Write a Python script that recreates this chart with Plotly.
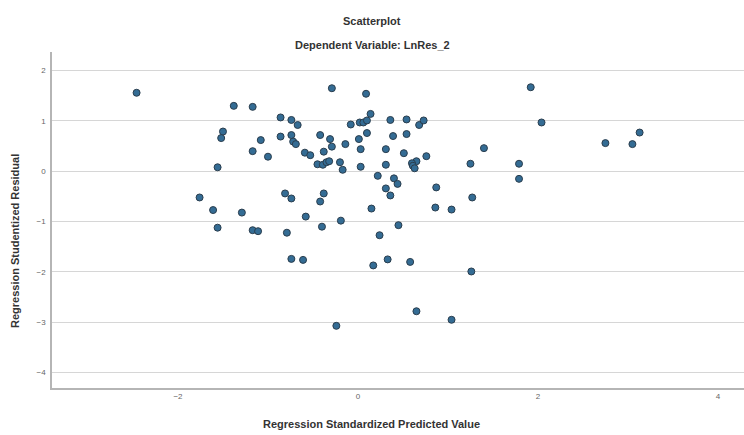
import plotly.graph_objects as go

# Regression Standardized Predicted Value
pred_x = [-2.46, -1.38, -1.17, -0.29, -0.86, -0.74, -0.67, -0.08, -1.50, -1.52,
          -0.86, -0.74, -0.72, -0.69, -1.08, -0.42, -0.31, -0.29, -0.14, -1.17,
          -1.00, -0.59, -0.53, -0.38, -0.45, -0.39, -0.35, -0.32, -0.20, -0.17,
          -1.56, -1.76, -1.61, -1.29, -0.81, -0.74, -0.38, -0.42, -1.56, -1.17,
          -1.11, -0.79, -0.58, -0.40, -0.19, -0.74, -0.61, 0.09, 0.14, 0.02,
          0.06, 0.10, 0.36, 0.54, 0.68, 0.73, 0.01, 0.10, 0.39, 0.54,
          0.03, 0.31, 0.51, 0.76, 0.65, 0.60, 0.61, 0.63, 0.03, 0.31,
          1.40, 1.25, 0.22, 0.40, 0.44, 0.31, 0.36, 0.87, 1.27, 0.15,
          0.86, 1.04, 0.24, 0.45, 0.33, 0.58, 0.17, 1.26, 0.65, 1.04,
          -0.24, 1.92, 2.04, 1.79, 1.79, 2.75, 3.05, 3.13]

# Regression Studentized Residual
resid_y = [1.56, 1.30, 1.28, 1.65, 1.07, 1.02, 0.92, 0.93, 0.79, 0.66,
           0.69, 0.72, 0.59, 0.54, 0.62, 0.72, 0.64, 0.49, 0.54, 0.40,
           0.29, 0.37, 0.32, 0.39, 0.14, 0.13, 0.18, 0.20, 0.18, 0.03,
           0.08, -0.52, -0.77, -0.82, -0.44, -0.54, -0.44, -0.60, -1.12, -1.17,
           -1.19, -1.22, -0.90, -1.10, -0.98, -1.74, -1.76, 1.54, 1.14, 0.97,
           0.97, 1.01, 1.02, 1.03, 0.92, 1.01, 0.64, 0.76, 0.70, 0.74,
           0.44, 0.44, 0.36, 0.30, 0.20, 0.16, 0.11, 0.06, 0.09, 0.13,
           0.46, 0.15, -0.09, -0.14, -0.25, -0.34, -0.48, -0.32, -0.52, -0.74,
           -0.72, -0.76, -1.27, -1.07, -1.75, -1.80, -1.87, -1.99, -2.78, -2.95,
           -3.07, 1.67, 0.97, 0.15, -0.15, 0.56, 0.54, 0.77]

x_ticks = [-2, 0, 2, 4]
y_ticks = [2, 1, 0, -1, -2, -3, -4]

title_main = "Scatterplot"
title_sub = "Dependent Variable: LnRes_2"
x_title = "Regression Standardized Predicted Value"
y_title = "Regression Studentized Residual"

FONT = "Liberation Sans, Arial, sans-serif"

fig = go.Figure()
fig.add_trace(go.Scatter(
    x=pred_x, y=resid_y, mode="markers",
    marker=dict(size=7, color="#346c94", line=dict(color="#2a3d4d", width=1)),
    hoverinfo="x+y", showlegend=False,
))

fig.update_layout(
    width=744, height=435,
    margin=dict(l=52, r=0, t=52, b=47),
    paper_bgcolor="white", plot_bgcolor="white",
    font=dict(family=FONT, size=8, color="#666666"),
    xaxis=dict(
        range=[-3.4, 4.29], tickvals=x_ticks, showgrid=False, zeroline=False,
        showline=True, linecolor="#b5b5b5", linewidth=1.5, ticks="",
        tickfont=dict(size=8, color="#666666"),
    ),
    yaxis=dict(
        range=[-4.305, 2.37], tickvals=y_ticks, showgrid=True, gridcolor="#d6d6d6",
        gridwidth=1, zeroline=False, showline=True, linecolor="#b5b5b5",
        linewidth=1.5, ticks="", tickfont=dict(size=8, color="#666666"),
        ticklabelstandoff=3,
    ),
    annotations=[
        dict(text="<b>" + title_main + "</b>", x=372, y=435 - 21, xref="paper", yref="paper",
             showarrow=False, font=dict(size=11, color="#333333", family=FONT)),
        dict(text="<b>" + title_sub + "</b>", x=372, y=435 - 45, xref="paper", yref="paper",
             showarrow=False, font=dict(size=11, color="#333333", family=FONT)),
        dict(text="<b>" + x_title + "</b>", x=371, y=435 - 424, xref="paper", yref="paper",
             showarrow=False, font=dict(size=11, color="#333333", family=FONT)),
        dict(text="<b>" + y_title + "</b>", x=15, y=435 - 241, xref="paper", yref="paper",
             showarrow=False, textangle=-90, font=dict(size=11, color="#333333", family=FONT)),
    ],
)

# convert annotation pixel positions to paper coordinates
pw = 744 - 52 - 0
ph = 435 - 52 - 47
for a in fig.layout.annotations:
    a.x = (a.x - 52) / pw
    a.y = (a.y - 47) / ph
    a.xanchor = "center"
    a.yanchor = "middle"

fig.write_html(
    "out.html",
    config={"displayModeBar": False},
    post_script="document.body.style.margin='0';document.body.style.padding='0';document.body.style.overflow='hidden';",
)
